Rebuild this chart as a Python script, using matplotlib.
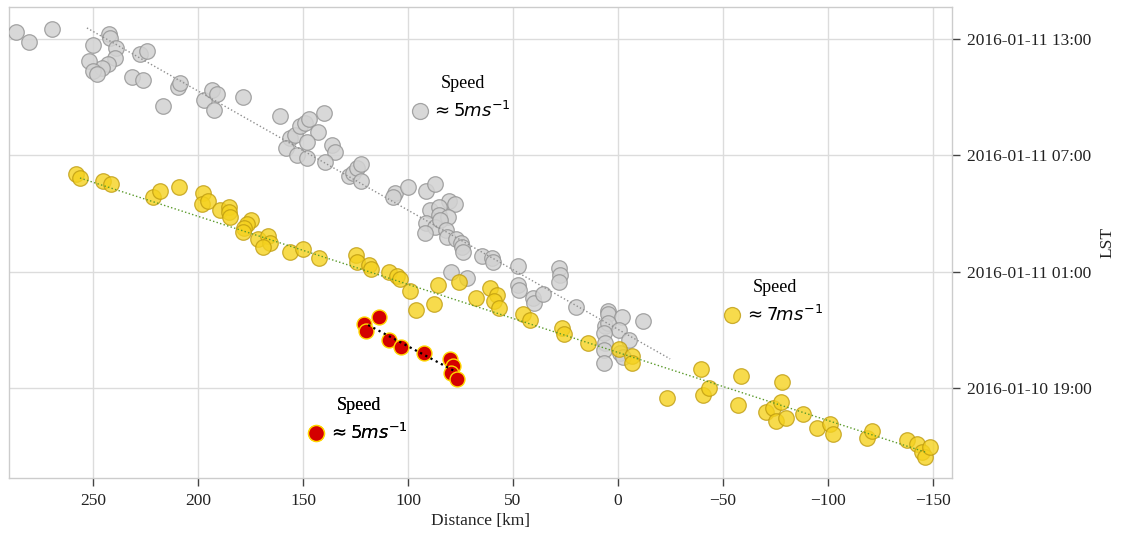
import numpy as np
import matplotlib
matplotlib.use('Agg')
import matplotlib.pyplot as plt
import matplotlib.dates as mdates
from matplotlib.lines import Line2D

plt.rcParams['font.family'] = 'serif'
plt.rcParams['font.serif'] = ['Liberation Serif', 'DejaVu Serif']
plt.rcParams['mathtext.fontset'] = 'dejavusans'

# time values are hours after 2016-01-10 00:00 LST, distance in km
gray_km = [286.7, 280.5, 269.5, 250.0, 242.4, 241.9, 239.0, 239.5, 242.9, 245.7,
           251.9, 250.0, 248.1, 227.6, 224.3, 231.4, 226.2, 209.5, 208.6, 216.7,
           197.1, 193.3, 191.0, 192.4, 178.6, 161.0, 156.2, 153.8, 158.1, 151.4,
           149.0, 147.1, 142.9, 148.1, 140.0, 152.9, 148.1, 136.2, 134.8, 139.5,
           128.1, 126.2, 124.3, 122.4, 122.4, 106.2, 107.1, 100.0, 91.4, 87.1,
           80.5, 77.6, 89.5, 85.2, 85.2, 81.0, 91.4, 87.1, 84.8, 81.9,
           91.9, 81.4, 77.1, 74.8, 74.3, 73.8, 64.8, 60.0, 59.5, 47.6,
           28.1, 27.6, 28.1, 79.5, 71.9, 47.6, 47.1, 40.5, 40.0, 35.7,
           20.0, 4.8, 4.8, -1.9, -11.9, 6.2, 4.8, -0.5, 6.7, -5.2,
           6.2, 6.7, 6.7, -1.0, -2.4]
gray_hr = [37.36, 36.84, 37.51, 36.69, 37.26, 37.05, 36.53, 36.02, 35.71, 35.50,
           35.86, 35.35, 35.19, 36.23, 36.38, 35.04, 34.88, 34.52, 34.73, 33.54,
           33.85, 34.37, 34.16, 33.34, 34.01, 33.03, 31.89, 32.05, 31.38, 32.51,
           32.67, 32.87, 32.20, 31.69, 33.18, 31.02, 30.86, 31.53, 31.17, 30.66,
           29.93, 30.09, 30.35, 30.55, 29.68, 29.06, 28.85, 29.37, 29.16, 29.52,
           28.64, 28.49, 28.18, 28.33, 27.92, 27.82, 27.51, 27.30, 27.66, 27.15,
           26.99, 26.79, 26.68, 26.48, 26.27, 26.01, 25.81, 25.70, 25.50, 25.29,
           25.19, 24.83, 24.47, 24.98, 24.67, 24.31, 24.05, 23.64, 23.38, 23.85,
           23.18, 22.97, 22.82, 22.66, 22.46, 22.20, 22.35, 21.99, 21.84, 21.48,
           21.32, 20.96, 20.29, 20.81, 20.60]

yellow_km = [258.1, 256.2, 245.2, 241.4, 221.4, 218.1, 209.0, 197.6, 198.1, 195.2,
             189.5, 185.2, 185.2, 184.8, 174.8, 176.7, 178.1, 178.6, 171.4, 166.7,
             165.7, 169.0, 156.2, 150.0, 142.4, 124.8, 124.3, 118.6, 117.6, 109.0,
             105.2, 103.8, 99.0, 85.7, 75.7, 96.2, 87.6, 67.6, 61.0, 57.6,
             59.0, 56.7, 45.2, 41.9, 26.7, 25.7, 14.3, -0.5, -6.7, -6.7,
             -39.5, -23.3, -40.5, -43.3, -58.6, -78.1, -57.1, -70.5, -73.8, -77.6,
             -75.2, -80.0, -88.1, -94.8, -101.0, -102.4, -118.6, -121.0, -137.6, -142.4,
             -144.8, -146.2, -148.6]
yellow_hr = [30.04, 29.83, 29.68, 29.52, 28.85, 29.16, 29.37, 29.06, 28.49, 28.64,
             28.18, 28.33, 28.08, 27.82, 27.66, 27.46, 27.25, 27.05, 26.68, 26.84,
             26.48, 26.27, 26.01, 26.17, 25.70, 25.86, 25.50, 25.34, 25.14, 24.98,
             24.78, 24.62, 24.00, 24.31, 24.47, 23.02, 23.33, 23.64, 24.16, 23.80,
             23.49, 23.13, 22.82, 22.51, 22.09, 21.78, 21.32, 21.01, 20.65, 20.29,
             19.98, 18.48, 18.64, 19.00, 19.62, 19.31, 18.12, 17.76, 17.97, 18.28,
             17.30, 17.45, 17.66, 16.94, 17.14, 16.63, 16.42, 16.78, 16.32, 16.11,
             15.70, 15.44, 15.96]

red_km = [121.0, 120.0, 113.8, 109.0, 103.3, 92.4, 80.0, 78.6, 79.5, 76.7]
red_hr = [22.30, 21.94, 22.66, 21.48, 21.11, 20.81, 20.50, 20.13, 19.77, 19.46]

# fitted front lines (end points)
gray_fit_km = [252.9, -24.8]
gray_fit_hr = [37.57, 20.50]
yellow_fit_km = [256.2, -146.2]
yellow_fit_hr = [29.83, 15.70]
red_fit_km = [119.0, 77.1]
red_fit_hr = [22.25, 19.83]

speed_labels = [r'$\approx 5ms^{-1}$', r'$\approx 7ms^{-1}$', r'$\approx 5ms^{-1}$']

t0 = np.datetime64('2016-01-10T00:00')


def to_time(hours):
    return t0 + (np.asarray(hours) * 3600).astype('timedelta64[s]')


fig = plt.figure(figsize=(11.21, 5.34), dpi=100)
ax = fig.add_axes([9 / 1121, 1 - 478 / 534, 943 / 1121, 471 / 534])

gray_style = dict(s=125, c='#d2d2d2', edgecolors='#969696', linewidths=0.9, alpha=0.85)
yellow_style = dict(s=125, c='#f5d21f', edgecolors='#bf9c10', linewidths=0.9, alpha=0.8)
red_style = dict(s=115, c='#d40000', edgecolors='#ffd700', linewidths=1.0)

ax.scatter(gray_km, to_time(gray_hr), zorder=3, **gray_style)
ax.scatter(yellow_km, to_time(yellow_hr), zorder=4, **yellow_style)
ax.scatter(red_km, to_time(red_hr), zorder=5, **red_style)

ax.plot(gray_fit_km, to_time(gray_fit_hr), ls=':', color='#8f8f8f', lw=1.0, zorder=6)
ax.plot(yellow_fit_km, to_time(yellow_fit_hr), ls=':', color='#5a9a2a', lw=1.0, zorder=6)
ax.plot(red_fit_km, to_time(red_fit_hr), ls=':', color='black', lw=1.6, zorder=6)

ax.set_xlim(290, -159)
ax.set_ylim(to_time(14.36), to_time(38.65))
ax.set_xticks([250, 200, 150, 100, 50, 0, -50, -100, -150])

ax.yaxis.set_major_locator(mdates.HourLocator(byhour=[1, 7, 13, 19]))
ax.yaxis.set_major_formatter(mdates.DateFormatter('%Y-%m-%d %H:%M'))
ax.yaxis.tick_right()
ax.yaxis.set_label_position('right')

ax.grid(True, color='#dcdcdc', lw=1.0, zorder=0)
ax.set_axisbelow(True)
for sp in ax.spines.values():
    sp.set_color('#cccccc')
    sp.set_linewidth(1.0)

ax.tick_params(axis='both', direction='out', length=6, width=1.0, color='#444444',
               labelsize=12.5, labelcolor='#222222')
ax.tick_params(axis='x', pad=5)
ax.tick_params(axis='y', pad=5)
ax.set_xlabel('Distance [km]', fontsize=12.5, color='#222222', labelpad=3)
ax.set_ylabel('LST', fontsize=12.5, color='#222222', labelpad=5)

# speed legends
legend_specs = [
    (gray_style, speed_labels[0], (0.481, 0.806)),
    (yellow_style, speed_labels[1], (0.812, 0.374)),
    (red_style, speed_labels[2], (0.371, 0.123)),
]
for style, label, anchor in legend_specs:
    handle = Line2D([], [], ls='', marker='o', markersize=11.5,
                    markerfacecolor=style['c'], markeredgecolor=style['edgecolors'],
                    markeredgewidth=style['linewidths'], alpha=style.get('alpha', 1.0))
    leg = ax.legend([handle], [label], title='Speed', loc='center',
                    bbox_to_anchor=anchor, frameon=False, fontsize=13,
                    title_fontsize=13, handlelength=0.6, handletextpad=0.35,
                    borderpad=0.2, labelspacing=0.5)
    leg.set_zorder(7)
    ax.add_artist(leg)

fig.savefig('out.png', dpi=100)
